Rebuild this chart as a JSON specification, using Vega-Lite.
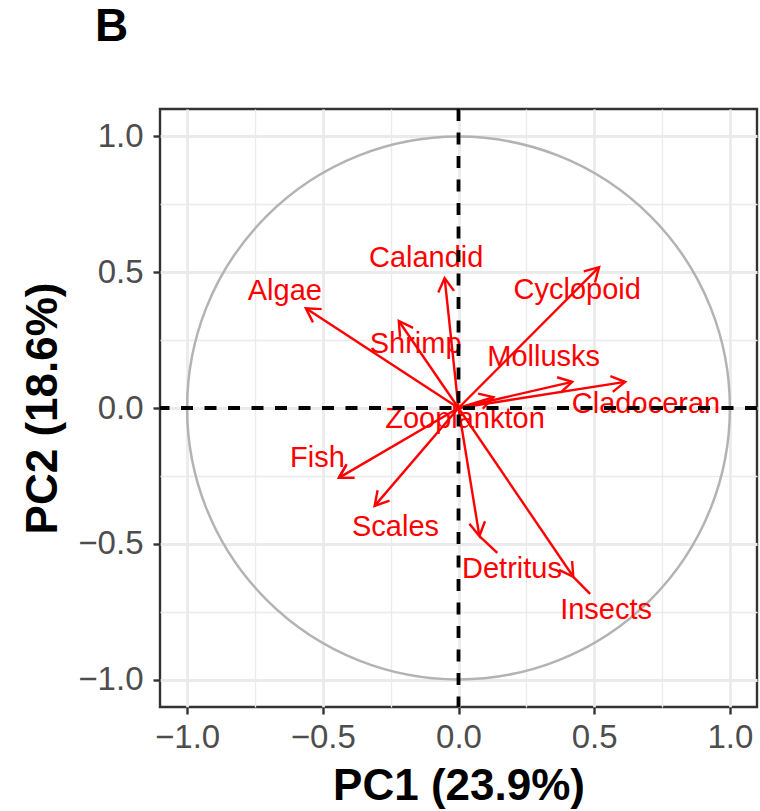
{
  "$schema": "https://vega.github.io/schema/vega-lite/v6.json",
  "autosize": {"type": "none"},
  "padding": {"left": 160, "top": 109, "right": 3, "bottom": 104},
  "width": 597,
  "height": 598,
  "background": "white",
  "config": {
    "view": {"stroke": "#333333", "strokeWidth": 2.4},
    "font": "Liberation Sans",
    "axis": {
      "domain": false,
      "grid": true,
      "gridColor": "#ebebeb",
      "gridWidth": {"condition": {"test": "abs(datum.value) % 0.5 < 0.01", "value": 2.8}, "value": 1.3},
      "ticks": true,
      "tickColor": "#333333",
      "tickWidth": 2.4,
      "tickSize": 7,
      "tickOpacity": {"condition": {"test": "abs(datum.value) % 0.5 < 0.01", "value": 1}, "value": 0},
      "labelExpr": "abs(datum.value) % 0.5 < 0.01 ? format(datum.value, '.1f') : ''",
      "labelFontSize": 33,
      "labelColor": "#4d4d4d",
      "labelFont": "Liberation Sans",
      "labelFlush": false,
      "labelOverlap": false,
      "titleFont": "Liberation Sans",
      "titleFontSize": 44,
      "titleFontWeight": "bold",
      "titleColor": "#000000"
    },
    "axisX": {"labelPadding": 7, "titlePadding": 10},
    "axisY": {"labelPadding": 10, "titlePadding": 12}
  },
  "title": {
    "text": "B",
    "anchor": "start",
    "frame": "group",
    "fontSize": 46,
    "fontWeight": "bold",
    "font": "Liberation Sans",
    "color": "#000000",
    "dx": -65,
    "offset": 20,
    "baseline": "alphabetic"
  },
  "datasets": {
    "arrows": [
      {"name": "Algae", "x": -0.5625, "y": 0.367, "lx": -0.64, "ly": 0.43},
      {"name": "Calandid", "x": -0.051, "y": 0.478, "lx": -0.119, "ly": 0.551},
      {"name": "Shrimp", "x": -0.22, "y": 0.32, "lx": -0.158, "ly": 0.235},
      {"name": "Cyclopoid", "x": 0.518, "y": 0.518, "lx": 0.4375, "ly": 0.434},
      {"name": "Mollusks", "x": 0.419, "y": 0.096, "lx": 0.314, "ly": 0.1875},
      {"name": "Cladoceran", "x": 0.614, "y": 0.096, "lx": 0.691, "ly": 0.015},
      {"name": "Zooplankton", "x": 0.129, "y": 0.04, "lx": 0.024, "ly": -0.04},
      {"name": "Fish", "x": -0.441, "y": -0.257, "lx": -0.52, "ly": -0.184},
      {"name": "Scales", "x": -0.309, "y": -0.36, "lx": -0.232, "ly": -0.4375},
      {"name": "Detritus", "x": 0.077, "y": -0.471, "lx": 0.197, "ly": -0.592},
      {"name": "Insects", "x": 0.423, "y": -0.621, "lx": 0.544, "ly": -0.743}
    ],
    "segments": [
      {"name": "Fish", "x": -0.441, "y": -0.257, "x2": -0.415, "y2": -0.213},
      {"name": "Detritus", "x": 0.077, "y": -0.471, "x2": 0.143, "y2": -0.533},
      {"name": "Insects", "x": 0.423, "y": -0.621, "x2": 0.485, "y2": -0.684}
    ],
    "origin": [{"x": 0, "y": 0}]
  },
  "layer": [
    {
      "data": {"name": "origin"},
      "mark": {"type": "point", "shape": "circle", "size": 294632, "filled": false, "stroke": "#b3b3b3", "strokeWidth": 2.5, "opacity": 1},
      "encoding": {
        "x": {"field": "x", "type": "quantitative", "scale": {"domain": [-1.1, 1.1], "nice": false, "zero": false}, "title": "PC1 (23.9%)", "axis": {"values": [-1, -0.75, -0.5, -0.25, 0, 0.25, 0.5, 0.75, 1]}},
        "y": {"field": "y", "type": "quantitative", "scale": {"domain": [-1.1, 1.1], "nice": false, "zero": false}, "title": "PC2 (18.6%)", "axis": {"values": [-1, -0.75, -0.5, -0.25, 0, 0.25, 0.5, 0.75, 1]}}
      }
    },
    {
      "data": {"name": "arrows"},
      "mark": {"type": "rule", "color": "#ff0000", "strokeWidth": 2.4},
      "encoding": {
        "x": {"field": "x", "type": "quantitative", "scale": {"domain": [-1.1, 1.1], "nice": false, "zero": false}, "title": "PC1 (23.9%)", "axis": {"values": [-1, -0.75, -0.5, -0.25, 0, 0.25, 0.5, 0.75, 1]}},
        "y": {"field": "y", "type": "quantitative", "scale": {"domain": [-1.1, 1.1], "nice": false, "zero": false}, "title": "PC2 (18.6%)", "axis": {"values": [-1, -0.75, -0.5, -0.25, 0, 0.25, 0.5, 0.75, 1]}},
        "x2": {"datum": 0},
        "y2": {"datum": 0}
      }
    },
    {
      "data": {"name": "arrows"},
      "transform": [{"calculate": "atan2(datum.x, datum.y) * 180 / PI", "as": "ang"}],
      "mark": {"type": "point", "shape": "M -0.5 0.866 L 0 0 L 0.5 0.866", "size": 1000, "filled": false, "stroke": "#ff0000", "strokeWidth": 2.4, "opacity": 1},
      "encoding": {
        "x": {"field": "x", "type": "quantitative", "scale": {"domain": [-1.1, 1.1], "nice": false, "zero": false}, "title": "PC1 (23.9%)", "axis": {"values": [-1, -0.75, -0.5, -0.25, 0, 0.25, 0.5, 0.75, 1]}},
        "y": {"field": "y", "type": "quantitative", "scale": {"domain": [-1.1, 1.1], "nice": false, "zero": false}, "title": "PC2 (18.6%)", "axis": {"values": [-1, -0.75, -0.5, -0.25, 0, 0.25, 0.5, 0.75, 1]}},
        "angle": {"field": "ang", "type": "quantitative", "scale": null}
      }
    },
    {
      "data": {"name": "segments"},
      "mark": {"type": "rule", "color": "#ff0000", "strokeWidth": 2.4},
      "encoding": {
        "x": {"field": "x", "type": "quantitative", "scale": {"domain": [-1.1, 1.1], "nice": false, "zero": false}, "title": "PC1 (23.9%)", "axis": {"values": [-1, -0.75, -0.5, -0.25, 0, 0.25, 0.5, 0.75, 1]}},
        "y": {"field": "y", "type": "quantitative", "scale": {"domain": [-1.1, 1.1], "nice": false, "zero": false}, "title": "PC2 (18.6%)", "axis": {"values": [-1, -0.75, -0.5, -0.25, 0, 0.25, 0.5, 0.75, 1]}},
        "x2": {"field": "x2"},
        "y2": {"field": "y2"}
      }
    },
    {
      "data": {"name": "arrows"},
      "mark": {"type": "text", "color": "#ff0000", "fontSize": 29, "font": "Liberation Sans", "align": "center", "baseline": "middle"},
      "encoding": {
        "x": {"field": "lx", "type": "quantitative", "scale": {"domain": [-1.1, 1.1], "nice": false, "zero": false}, "title": "PC1 (23.9%)", "axis": {"values": [-1, -0.75, -0.5, -0.25, 0, 0.25, 0.5, 0.75, 1]}},
        "y": {"field": "ly", "type": "quantitative", "scale": {"domain": [-1.1, 1.1], "nice": false, "zero": false}, "title": "PC2 (18.6%)", "axis": {"values": [-1, -0.75, -0.5, -0.25, 0, 0.25, 0.5, 0.75, 1]}},
        "text": {"field": "name", "type": "nominal"}
      }
    },
    {
      "data": {"name": "origin"},
      "mark": {"type": "rule", "color": "#000000", "strokeWidth": 3.8, "strokeDash": [12, 11.5]},
      "encoding": {
        "x": {"field": "x", "type": "quantitative", "scale": {"domain": [-1.1, 1.1], "nice": false, "zero": false}, "title": "PC1 (23.9%)", "axis": {"values": [-1, -0.75, -0.5, -0.25, 0, 0.25, 0.5, 0.75, 1]}}
      }
    },
    {
      "data": {"name": "origin"},
      "mark": {"type": "rule", "color": "#000000", "strokeWidth": 3.8, "strokeDash": [12, 11.5]},
      "encoding": {
        "y": {"field": "y", "type": "quantitative", "scale": {"domain": [-1.1, 1.1], "nice": false, "zero": false}, "title": "PC2 (18.6%)", "axis": {"values": [-1, -0.75, -0.5, -0.25, 0, 0.25, 0.5, 0.75, 1]}}
      }
    }
  ]
}
